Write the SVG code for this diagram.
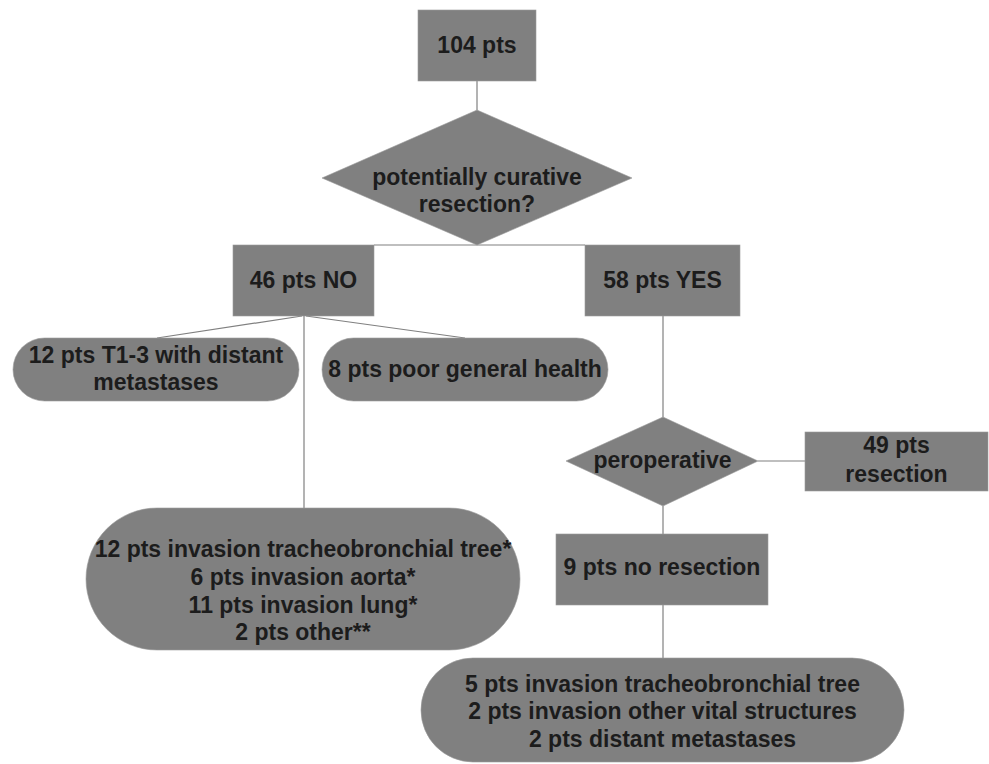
<svg xmlns="http://www.w3.org/2000/svg" width="989" height="764" viewBox="0 0 989 764">
<style>
.n{fill:#808080;stroke:#9a9a9a;stroke-width:0.6}
.t{font-family:"Liberation Sans",Arial,sans-serif;font-weight:bold;font-size:23px;fill:#1c1c1c;text-anchor:middle}
.c{stroke:#808080;stroke-width:1.2;fill:none}
</style>
<rect width="989" height="764" fill="#ffffff"/>
<g id="connectors">
<line class="c" x1="477" y1="81" x2="477" y2="110"/>
<line class="c" x1="374" y1="245" x2="585" y2="245"/>
<line class="c" x1="302" y1="316" x2="157" y2="338"/>
<line class="c" x1="306" y1="316" x2="465" y2="338"/>
<line class="c" x1="304" y1="316" x2="304" y2="508"/>
<line class="c" x1="663" y1="316" x2="663" y2="417"/>
<line class="c" x1="758" y1="461" x2="805" y2="461"/>
<line class="c" x1="663" y1="506" x2="663" y2="534"/>
<line class="c" x1="663" y1="605" x2="663" y2="658"/>
</g>
<g id="n104">
<rect class="n" x="418" y="10" width="118" height="71"/>
<text class="t" x="477" y="53">104 pts</text>
</g>
<g id="dCurative">
<polygon class="n" points="477,110 632,178 477,245 322,178"/>
<text class="t" x="477" y="185">potentially curative</text>
<text class="t" x="477" y="212">resection?</text>
</g>
<g id="nNo">
<rect class="n" x="233" y="245" width="141" height="71"/>
<text class="t" x="303.5" y="288">46 pts NO</text>
</g>
<g id="nYes">
<rect class="n" x="585" y="245" width="155" height="71"/>
<text class="t" x="662.5" y="288">58 pts YES</text>
</g>
<g id="nT13">
<rect class="n" x="13" y="338" width="286" height="63" rx="31.5" ry="31.5"/>
<text class="t" x="156" y="363">12 pts T1-3 with distant</text>
<text class="t" x="156" y="390">metastases</text>
</g>
<g id="nPoor">
<rect class="n" x="322" y="338" width="286" height="63" rx="31.5" ry="31.5"/>
<text class="t" x="465" y="377">8 pts poor general health</text>
</g>
<g id="nInvasion">
<rect class="n" x="86" y="508" width="434" height="142" rx="71" ry="71"/>
<text class="t" x="303" y="557">12 pts invasion tracheobronchial tree*</text>
<text class="t" x="303" y="585">6 pts invasion aorta*</text>
<text class="t" x="303" y="612.5">11 pts invasion lung*</text>
<text class="t" x="303" y="639.5">2 pts other**</text>
</g>
<g id="dPerop">
<polygon class="n" points="663,417 758,461 663,506 566,461"/>
<text class="t" x="662.5" y="468">peroperative</text>
</g>
<g id="n49">
<rect class="n" x="805" y="432" width="183" height="59"/>
<text class="t" x="896.5" y="453">49 pts</text>
<text class="t" x="896.5" y="482">resection</text>
</g>
<g id="n9">
<rect class="n" x="556" y="534" width="212" height="71"/>
<text class="t" x="662" y="575">9 pts no resection</text>
</g>
<g id="nBottom">
<rect class="n" x="421" y="658" width="483" height="104" rx="52" ry="52"/>
<text class="t" x="662.5" y="692">5 pts invasion tracheobronchial tree</text>
<text class="t" x="662.5" y="719">2 pts invasion other vital structures</text>
<text class="t" x="662.5" y="747">2 pts distant metastases</text>
</g>
</svg>
